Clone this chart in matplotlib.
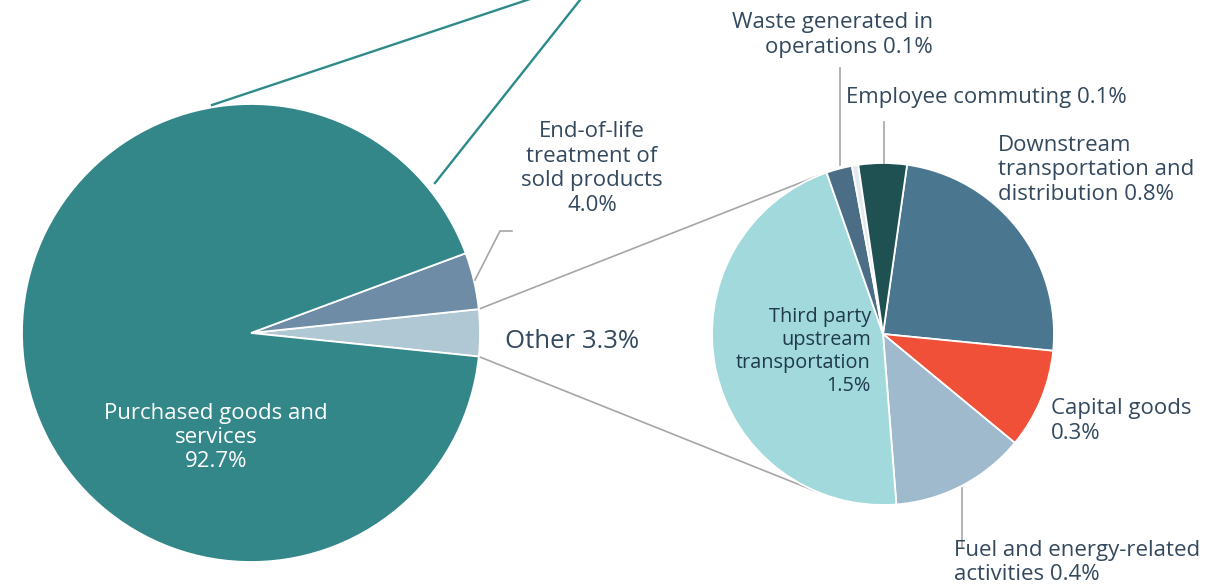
import matplotlib
matplotlib.use("Agg")
import matplotlib.pyplot as plt
import numpy as np

plt.rcParams['font.family'] = ['Open Sans', 'DejaVu Sans']

# ---------------- data ----------------
main_labels = ["Other", "End-of-life treatment of sold products", "Purchased goods and services"]
main_values = [3.3, 4.0, 92.7]
main_colors = ["#AFC8D4", "#6E8CA6", "#338789"]

other_labels = ["Downstream transportation and distribution", "Capital goods",
                "Fuel and energy-related activities", "Third party upstream transportation",
                "Waste generated in operations", "Unlabelled", "Employee commuting"]
other_values = [0.80, 0.31, 0.42, 1.51, 0.08, 0.02, 0.15]
other_colors = ["#4A768F", "#F05038", "#9FBACC", "#A1D9DC", "#4B6D86", "#E3E9EF", "#1F5052"]

W, H = 1230, 584
def Y(y):  # pixel row -> data y (y up)
    return H - y

fig = plt.figure(figsize=(W / 100, H / 100), dpi=100)
ax = fig.add_axes([0, 0, 1, 1])

TXT = "#34495E"
GRAY = "#A6A6A6"

# big pie
c1 = (251, Y(333)); r1 = 229
w1, _ = ax.pie(main_values, colors=main_colors, startangle=-5.9, counterclock=True,
               center=c1, radius=r1, frame=True,
               wedgeprops=dict(edgecolor='white', linewidth=1.3))

# small pie
c2 = (883, Y(334)); r2 = 171
w2, _ = ax.pie(other_values, colors=other_colors, startangle=81.9, counterclock=False,
               center=c2, radius=r2, frame=True,
               wedgeprops=dict(edgecolor='white', linewidth=1.3))
ax.set_xlim(0, W); ax.set_ylim(0, H); ax.set_aspect('equal'); ax.axis('off')

# connectors from "Other" wedge to small pie
def pt(c, r, ang):
    a = np.deg2rad(ang)
    return c[0] + r * np.cos(a), c[1] + r * np.sin(a)

oth = w1[0]
p_top = pt(c1, r1, oth.theta2)
p_bot = pt(c1, r1, oth.theta1)
q_top = pt(c2, r2, 112.2)
q_bot = pt(c2, r2, 247.2)
ax.plot([p_top[0], q_top[0]], [p_top[1], q_top[1]], color=GRAY, lw=1.2, zorder=0)
ax.plot([p_bot[0], q_bot[0]], [p_bot[1], q_bot[1]], color=GRAY, lw=1.2, zorder=0)

# teal lines leaving the top of figure
TEAL = "#2E8A8A"
ax.plot([212, 527 + (527 - 212) * 0.05], [Y(105), Y(0) + 105 * 0.05], color=TEAL, lw=1.7, clip_on=False)
ax.plot([435, 580 + (580 - 435) * 0.05], [Y(183), Y(0) + 183 * 0.05], color=TEAL, lw=1.7, clip_on=False)

# labels big pie
fs = 16.0
ls = 1.21
ax.text(216, Y(437.5), "Purchased goods and\nservices\n92.7%", color="white", fontsize=fs,
        ha='center', va='center', linespacing=ls)
ax.text(592, Y(168.5), "End-of-life\ntreatment of\nsold products\n4.0%", color=TXT, fontsize=fs,
        ha='center', va='center', linespacing=ls)
ax.plot([475, 500, 512], [Y(280), Y(231), Y(231)], color=GRAY, lw=1.2)
ax.text(505, Y(341), "Other 3.3%", color=TXT, fontsize=18.5, ha='left', va='center')

# labels small pie
ax.text(871, Y(351.5), "Third party\nupstream\ntransportation\n1.5%", color="#1E3A4C", fontsize=14.3,
        ha='right', va='center', linespacing=1.19)
ax.text(933, Y(35), "Waste generated in\noperations 0.1%", color=TXT, fontsize=fs,
        ha='right', va='center', linespacing=ls)
ax.plot([840, 840], [Y(68), Y(165)], color=GRAY, lw=1.2)
ax.text(846, Y(98), "Employee commuting 0.1%", color=TXT, fontsize=fs, ha='left', va='center')
ax.plot([884, 884], [Y(122), Y(163)], color=GRAY, lw=1.2)
ax.text(998, Y(170), "Downstream\ntransportation and\ndistribution 0.8%", color=TXT, fontsize=fs,
        ha='left', va='center', linespacing=ls)
ax.text(1051, Y(421), "Capital goods\n0.3%", color=TXT, fontsize=fs, ha='left', va='center',
        linespacing=ls)
ax.plot([962, 962], [Y(488), Y(547)], color=GRAY, lw=1.2)
ax.text(954, Y(562.5), "Fuel and energy-related\nactivities 0.4%", color=TXT, fontsize=fs,
        ha='left', va='center', linespacing=ls)

fig.savefig("out.png", dpi=100)
